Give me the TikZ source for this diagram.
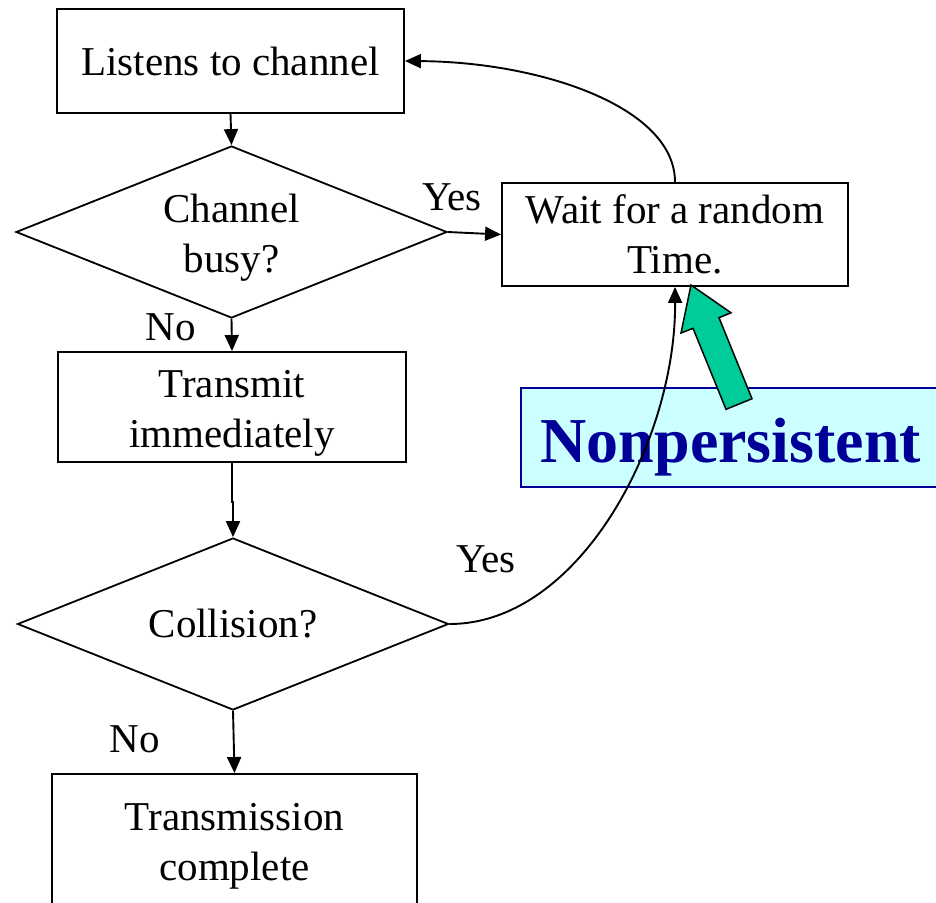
\documentclass[tikz,border=0pt]{standalone}
\usepackage{fontspec}
\setmainfont{Liberation Serif}
\usetikzlibrary{shapes.geometric,arrows.meta,calc}

\definecolor{arrowgreen}{HTML}{00CC99}
\definecolor{notefill}{HTML}{CCFFFF}
\definecolor{noteblue}{HTML}{000099}

\newcommand\flowfont{\fontsize{41}{50}\selectfont}
\newcommand\notefont{\fontsize{64}{70}\selectfont\bfseries}
% taller first line, to lower two-line texts a little inside their shapes
\newcommand\tallline{\rule{0pt}{40pt}}

\tikzset{
  flowbox/.style={draw, rectangle, line width=1.9pt, inner sep=0pt,
                  font=\flowfont, align=center},
  decision/.style={draw, diamond, aspect=2.5, line width=1.8pt, inner sep=0pt,
                   font=\flowfont, align=center,
                   minimum width=431pt, minimum height=172pt},
  conn/.style={line width=1.9pt, -{Triangle[length=16pt,width=14pt]}},
  lbl/.style={font=\flowfont, inner sep=0pt, anchor=base},
  notebox/.style={draw=noteblue, fill=notefill, line width=1.8pt, inner sep=0pt},
  notetext/.style={font=\notefont, text=noteblue, inner sep=0pt, anchor=base},
  blockarrow/.style={draw=black, fill=arrowgreen, line width=1.5pt, line join=miter}
}

\begin{document}
\begin{tikzpicture}[x=1pt, y=-1pt]
\useasboundingbox (0,0) rectangle (936,902);
\clip (0,0) rectangle (936,902);

% process steps and decisions
\node[flowbox, minimum width=347pt, minimum height=104pt] (listen) at (230.5,61) {Listens to channel};
\node[decision] (busy) at (231.5,232) {\tallline Channel\\busy?};
\node[flowbox, minimum width=346pt, minimum height=103pt] (wait) at (675,234.5) {Wait for a random\\Time.};
\node[flowbox, minimum width=348pt, minimum height=110pt] (transmit) at (232,407) {\tallline Transmit\\immediately};
\node[decision] (collide) at (233,624) {Collision?};
\node[flowbox, minimum width=365pt, minimum height=136pt] (done) at (234.5,842) {\rule{0pt}{35pt}Transmission\\complete};

% branch labels
\node[lbl] (yesbusy) at (452,210) {Yes};
\node[lbl] (nobusy) at (171,340) {No};
\node[lbl] (yescoll) at (486,572) {Yes};
\node[lbl] (nocoll) at (135,752) {No};

% main flow
\draw[conn] (listen.south) -- (busy.north);
\draw[conn] (busy.east) -- (wait.west);
\draw[conn] (busy.south) -- (transmit.north);
\draw[conn] (transmit.south) -- ++(0,39) -| (collide.north);
\draw[conn] (collide.south) -- (done.north);
\draw[conn] (wait.north) .. controls +(0,-75) and +(136,1) .. (listen.east);

% strategy note with its pointer
\node[notebox, minimum width=440pt, minimum height=99pt, anchor=north west] (notebg) at (520,387) {};
\node[notetext] (note) at (731,462) {Nonpersistent};
\draw[blockarrow] (691,285) -- (731,312.8) -- (719,317.7) -- (752,398.7)
                  -- (726,409.3) -- (693,328.3) -- (681,333) -- cycle;

% retry after a collision
\draw[conn] (collide.east) .. controls (580,624) and (676,440) .. (wait.south);
\end{tikzpicture}
\end{document}
